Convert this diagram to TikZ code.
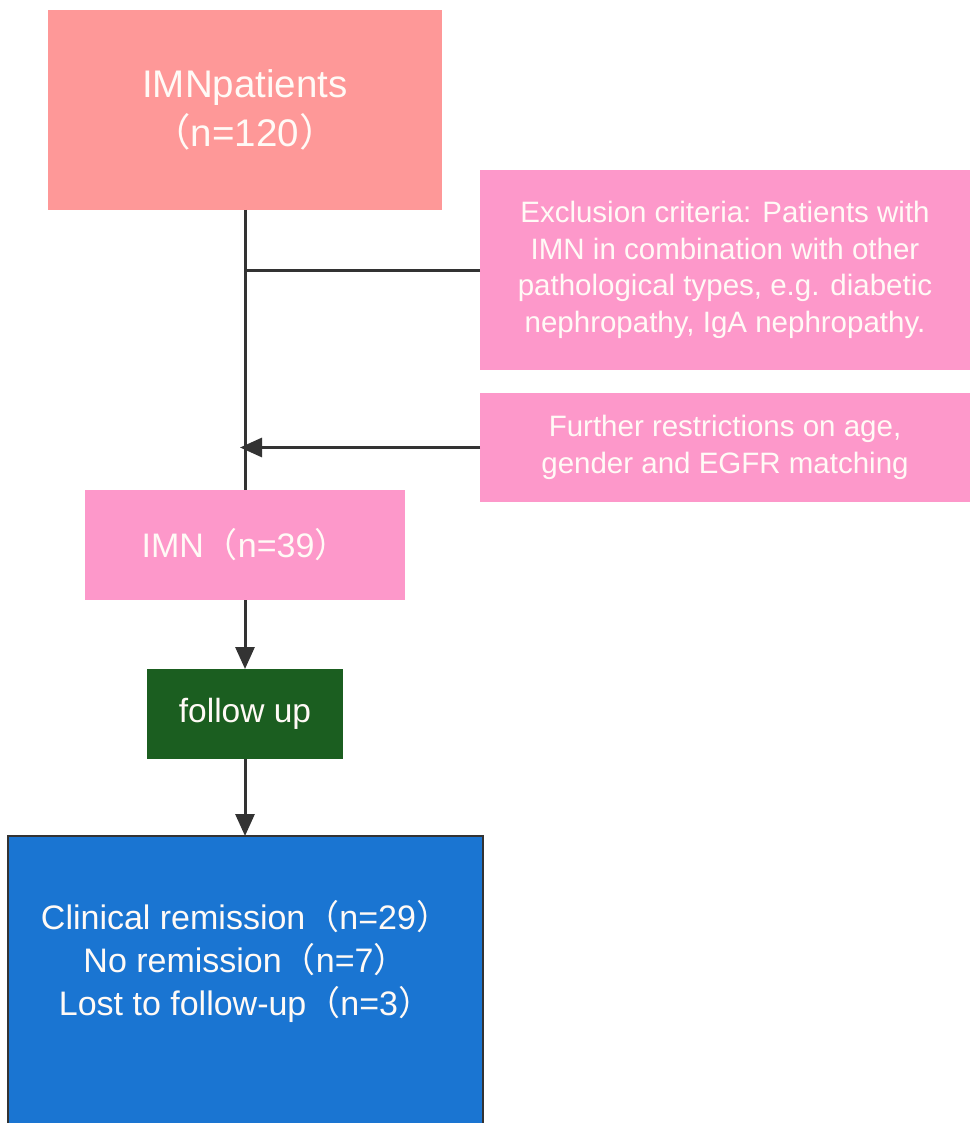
\documentclass[tikz,border=0pt]{standalone}
\usepackage{fontspec}
\setmainfont{Liberation Sans}
\newfontfamily\cjkfont{Noto Sans CJK SC}
\usetikzlibrary{arrows.meta}
\newcommand{\lpar}{{\cjkfont （}}
\newcommand{\rpar}{{\cjkfont ）}}
\definecolor{topred}{RGB}{254,152,152}
\definecolor{pinkbox}{RGB}{253,152,202}
\definecolor{fugreen}{RGB}{27,94,32}
\definecolor{outblue}{RGB}{26,117,210}
\definecolor{linegray}{RGB}{51,51,51}
\definecolor{txtwhite}{RGB}{255,250,246}
\tikzset{
  box/.style={anchor=north west, inner sep=0pt, outer sep=0pt, align=center, text=txtwhite},
  conn/.style={draw=linegray, line width=3pt},
  arr/.style={conn, -{Triangle[length=22pt,width=19pt]}},
}
\begin{document}
\begin{tikzpicture}[x=1pt,y=-1pt]
\useasboundingbox (0,0) rectangle (970,1123);
\fill[white] (0,0) rectangle (970,1123);
\node[box, fill=topred, minimum width=394pt, minimum height=200pt,
      font=\fontsize{38.5}{49}\selectfont] (top) at (48,10) {\rule{0pt}{10pt}IMNpatients\\\lpar n=120\rpar};
\node[box, fill=pinkbox, minimum width=490pt, minimum height=200pt,
      font=\fontsize{29.5}{36.5}\selectfont] (excl) at (480,170)
  {\rule{0pt}{10pt}Exclusion criteria: Patients with\\IMN in combination with other\\pathological types, e.g. diabetic\\nephropathy, IgA nephropathy.};
\node[box, fill=pinkbox, minimum width=490pt, minimum height=109pt,
      font=\fontsize{29.5}{36.5}\selectfont] (restr) at (480,393)
  {\rule{0pt}{10pt}Further restrictions on age,\\gender and EGFR matching};
\node[box, fill=pinkbox, minimum width=320pt, minimum height=110pt,
      font=\fontsize{34}{40}\selectfont] (imn) at (85,490) {IMN\lpar n=39\rpar};
\node[box, fill=fugreen, minimum width=196pt, minimum height=90pt,
      font=\fontsize{33.5}{40}\selectfont] (fu) at (147,669) {follow up};
\node[box, fill=outblue, draw=linegray, line width=2pt, minimum width=475pt, minimum height=300pt] (out) at (8,836) {};
\node[align=center, text=txtwhite, inner sep=0pt, font=\fontsize{34}{43}\selectfont] (outtext) at (245.5,961)
  {Clinical remission\lpar n=29\rpar\\No remission\lpar n=7\rpar\\Lost to follow-up\lpar n=3\rpar};
\coordinate (j1) at (excl.west -| top.south);
\coordinate (j2) at ([xshift=-5pt]restr.west -| top.south);
\draw[conn] (top.south) -- (imn.north);
\draw[conn] (excl.west) -- (j1);
\draw[arr] (restr.west) -- (j2);
\draw[arr] (imn.south) -- (fu.north);
\draw[arr] (fu.south) -- (fu.south |- out.north);
\end{tikzpicture}
\end{document}
